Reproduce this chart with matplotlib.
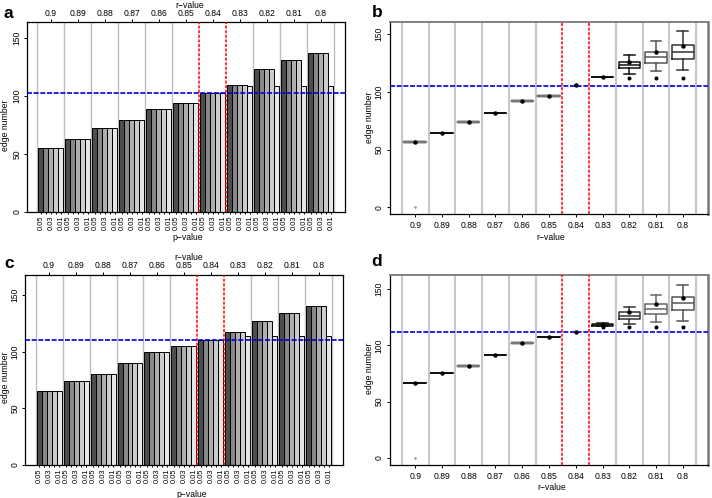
import matplotlib
matplotlib.use("Agg")
import matplotlib.pyplot as plt
import numpy as np

plt.rcParams['font.family'] = ['Liberation Sans', 'DejaVu Sans']

W, H = 712, 498
FS = 6.2

r_values = ["0.9", "0.89", "0.88", "0.87", "0.86", "0.85", "0.84", "0.83", "0.82", "0.81", "0.8"]
p_values = ["0.05", "0.04", "0.03", "0.02", "0.01"]
bar_colors = ["#4D4D4D", "#888888", "#AEAEAE", "#CCCCCC", "#E6E6E6"]

# ---- panel a: edge number per r-value (groups) and p-value (bars) ----
a_p05 = [55, 63, 72, 79, 89, 94, 103, 110, 123, 131, 137]
a_p04 = [55, 63, 72, 79, 89, 94, 103, 110, 123, 131, 137]
a_p03 = [55, 63, 72, 79, 89, 94, 103, 110, 123, 131, 137]
a_p02 = [55, 63, 72, 79, 89, 94, 103, 110, 123, 131, 137]
a_p01 = [55, 63, 72, 79, 89, 94, 103, 109, 109, 109, 109]
a_threshold = 103

# ---- panel c ----
c_p05 = [65, 74, 80, 90, 100, 105, 110, 117, 127, 134, 140]
c_p04 = [65, 74, 80, 90, 100, 105, 110, 117, 127, 134, 140]
c_p03 = [65, 74, 80, 90, 100, 105, 110, 117, 127, 134, 140]
c_p02 = [65, 74, 80, 90, 100, 105, 110, 117, 127, 134, 140]
c_p01 = [65, 74, 80, 90, 100, 105, 110, 114, 114, 114, 114]
c_threshold = 110.5

# ---- panel b: box statistics per r-value ----
b_whislo = [56.5, 64.4, 73.6, 81.6, 91.6, 96.3, 105.5, 112.5, 115.3, 117.5, 118.4]
b_q1     = [56.5, 64.4, 73.6, 81.6, 91.6, 96.3, 105.5, 112.3, 120.1, 124.7, 128.2]
b_med    = [56.5, 64.4, 73.6, 81.6, 91.6, 96.3, 105.5, 112.5, 122.8, 129.7, 134.0]
b_q3     = [56.5, 64.4, 73.6, 81.6, 91.6, 96.3, 105.5, 112.7, 125.5, 134.0, 140.0]
b_whishi = [56.5, 64.4, 73.6, 81.6, 91.6, 96.3, 105.5, 112.7, 131.3, 143.4, 152.3]
b_mean   = [56.5, 64.4, 73.6, 81.6, 91.6, 96.3, 105.5, 112.5, 126.0, 133.9, 139.8]
b_fliers = [[0], [], [], [], [], [], [], [], [112], [112], [112]]
b_threshold = 105.3

# ---- panel d ----
d_whislo = [66.2, 75.1, 81.4, 91.2, 102.1, 107.2, 112.2, 117.2, 119.3, 121.1, 122.0]
d_q1     = [66.2, 75.1, 81.4, 91.2, 102.1, 107.2, 112.2, 117.6, 123.8, 128.0, 131.2]
d_med    = [66.2, 75.1, 81.4, 91.2, 102.1, 107.2, 112.2, 118.4, 126.5, 132.1, 137.5]
d_q3     = [66.2, 75.1, 81.4, 91.2, 102.1, 107.2, 112.2, 119.2, 129.4, 136.6, 142.8]
d_whishi = [66.2, 75.1, 81.4, 91.2, 102.1, 107.2, 112.2, 119.6, 134.5, 144.6, 153.5]
d_mean   = [66.2, 75.1, 81.4, 91.2, 102.1, 107.2, 112.2, 118.4, 129.4, 136.6, 142.6]
d_fliers = [[0], [], [], [], [], [], [], [116.5], [116.1], [116.0], [116.0]]
d_threshold = 112.2

b_colors = ["#777777", "#111111", "#777777", "#111111", "#777777", "#777777",
            "#334466", "#111111", "#111111", "#555555", "#333333"]
d_colors = ["#111111", "#111111", "#777777", "#111111", "#777777", "#111111",
            "#334466", "#111111", "#333333", "#666666", "#555555"]

fig = plt.figure(figsize=(W / 100, H / 100), dpi=100)


def px_axes(l, t, r, b):
    return fig.add_axes([l / W, 1 - b / H, (r - l) / W, (b - t) / H])


def ftext(x, y, s, **kw):
    fig.text(x / W, 1 - y / H, s, **kw)


GROUP = 5.4
GAP = 0.4


def bar_panel(ax, series, threshold, ylim_top):
    n = len(r_values)
    starts = np.arange(n) * GROUP + GAP
    for i in range(n + 1):
        xb = i * GROUP + GAP / 2
        if i in (6, 7):
            continue
        ax.axvline(xb, color="#bdbdbd", lw=1.0, zorder=0)
    tick_pos, tick_lab = [], []
    for j, vals in enumerate(series):
        xs = starts + j + 0.5
        ax.bar(xs, vals, width=1.0, color=bar_colors[j], edgecolor="black",
               linewidth=0.7, zorder=2)
    for i in range(n):
        for j in range(len(p_values)):
            tick_pos.append(starts[i] + j + 0.5)
            tick_lab.append(p_values[j] if j % 2 == 0 else "")
    for i in (6, 7):
        ax.axvline(i * GROUP + GAP / 2, color="red", lw=1.1,
                   linestyle=(0, (2, 1)), zorder=4)
    ax.axhline(threshold, color="#0000dd", lw=1.2, linestyle=(0, (3, 1)), zorder=5)
    ax.set_xlim(-1.92, n * GROUP + 2.34)
    ax.set_ylim(0, ylim_top)
    ax.set_xticks(tick_pos)
    ax.set_xticklabels(tick_lab, rotation=90, fontsize=5.4)
    ax.set_yticks([0, 50, 100, 150])
    ax.set_yticklabels(["0", "50", "100", "150"], rotation=90, va="center", fontsize=FS)
    ax.tick_params(direction="out", length=2.3, width=0.7, pad=1.5)
    ax.tick_params(axis="x", length=1.5, pad=1.2)
    top = ax.secondary_xaxis("top")
    top.set_xticks(starts + 2.5)
    top.set_xticklabels(r_values, fontsize=FS)
    top.tick_params(direction="out", length=2.3, width=0.7, pad=1.0)
    for sp in ax.spines.values():
        sp.set_linewidth(0.9)
        sp.set_color("black")
    top.spines["top"].set_visible(False)


def box_panel(ax, whislo, q1, med, q3, whishi, mean, fliers, colors, threshold, ylim):
    n = len(r_values)
    for k in range(n + 1):
        xb = k + 0.5
        if k in (6, 7):
            continue
        ax.axvline(xb, color="#c8c8c8", lw=1.5, zorder=0)
    stats = []
    for i in range(n):
        stats.append(dict(whislo=whislo[i], q1=q1[i], med=med[i], q3=q3[i],
                          whishi=whishi[i], mean=mean[i], fliers=fliers[i]))
    widths = [0.8] * n
    widths[6] = 0.06
    caps = [0.4] * n
    caps[6] = 0.03
    art = ax.bxp(stats, positions=np.arange(1, n + 1), widths=widths, capwidths=caps,
                 showmeans=True, patch_artist=False, manage_ticks=False)
    for i in range(n):
        c = colors[i]
        lw = 1.7 if c == "#777777" else 1.1
        art["boxes"][i].set_color(c)
        art["boxes"][i].set_linewidth(lw)
        art["medians"][i].set_color(c)
        art["medians"][i].set_linewidth(lw)
        for k in (2 * i, 2 * i + 1):
            art["whiskers"][k].set_color(c)
            art["whiskers"][k].set_linestyle("-")
            art["whiskers"][k].set_linewidth(1.1)
            art["caps"][k].set_color(c)
            art["caps"][k].set_linewidth(1.1)
        m = art["means"][i]
        m.set_marker("o")
        m.set_markersize(2.2)
        m.set_markerfacecolor("black")
        m.set_markeredgecolor("black")
        m.set_zorder(6)
        f = art["fliers"][i]
        f.set_marker("o")
        f.set_markersize(1.9)
        f.set_markerfacecolor("black")
        f.set_markeredgecolor("black")
    art["fliers"][0].set_markersize(0.9)
    art["fliers"][0].set_markerfacecolor("#999999")
    art["fliers"][0].set_markeredgecolor("#999999")
    for k in (6, 7):
        ax.axvline(k + 0.5, color="red", lw=1.1, linestyle=(0, (2, 1)), zorder=4)
    ax.axhline(threshold, color="#0000dd", lw=1.2, linestyle=(0, (3, 1)), zorder=3)
    ax.set_xlim(0.06, n + 0.94)
    ax.set_ylim(*ylim)
    ax.set_xticks(np.arange(1, n + 1))
    ax.set_xticklabels(r_values, fontsize=FS)
    ax.set_yticks([0, 50, 100, 150])
    ax.set_yticklabels(["0", "50", "100", "150"], rotation=90, va="center", fontsize=FS)
    ax.tick_params(direction="out", length=2.3, width=0.7, pad=2.5)
    ax.spines["left"].set_color("black")
    ax.spines["bottom"].set_color("black")
    ax.spines["left"].set_linewidth(0.9)
    ax.spines["bottom"].set_linewidth(0.9)
    ax.spines["top"].set_color("#777777")
    ax.spines["right"].set_color("#777777")
    ax.spines["top"].set_linewidth(1.3)
    ax.spines["right"].set_linewidth(1.8)


ax_a = px_axes(26.7, 22.3, 345, 211.7)
bar_panel(ax_a, [a_p05, a_p04, a_p03, a_p02, a_p01], a_threshold, 163.8)
ax_c = px_axes(25, 275, 343, 465)
bar_panel(ax_c, [c_p05, c_p04, c_p03, c_p02, c_p01], c_threshold, 167.7)
ax_b = px_axes(390, 22.3, 708, 214.3)
box_panel(ax_b, b_whislo, b_q1, b_med, b_q3, b_whishi, b_mean, b_fliers, b_colors,
          b_threshold, (-6, 160))
ax_d = px_axes(390, 275, 708, 465)
box_panel(ax_d, d_whislo, d_q1, d_med, d_q3, d_whishi, d_mean, d_fliers, d_colors,
          d_threshold, (-6.5, 162.7))

ftext(190, 5.5, "r\u2212value", ha="center", va="center", fontsize=FS)
ftext(188, 238, "p\u2212value", ha="center", va="center", fontsize=FS)
ftext(5.5, 125, "edge number", ha="center", va="center", rotation=90, fontsize=FS)

ftext(189, 257.5, "r\u2212value", ha="center", va="center", fontsize=FS)
ftext(192, 494, "p\u2212value", ha="center", va="center", fontsize=FS)
ftext(6, 377, "edge number", ha="center", va="center", rotation=90, fontsize=FS)

ftext(551, 237.3, "r\u2212value", ha="center", va="center", fontsize=FS)
ftext(369.5, 117, "edge number", ha="center", va="center", rotation=90, fontsize=FS)

ftext(551.5, 487, "r\u2212value", ha="center", va="center", fontsize=FS)
ftext(369, 368, "edge number", ha="center", va="center", rotation=90, fontsize=FS)

for (x, y, s) in [(8.3, 18.3, "a"), (377, 16.7, "b"), (9, 268.3, "c"), (376.5, 266, "d")]:
    ftext(x, y, s, ha="center", va="baseline", fontsize=12.5, fontweight="bold")

fig.savefig("out.png", dpi=100)
